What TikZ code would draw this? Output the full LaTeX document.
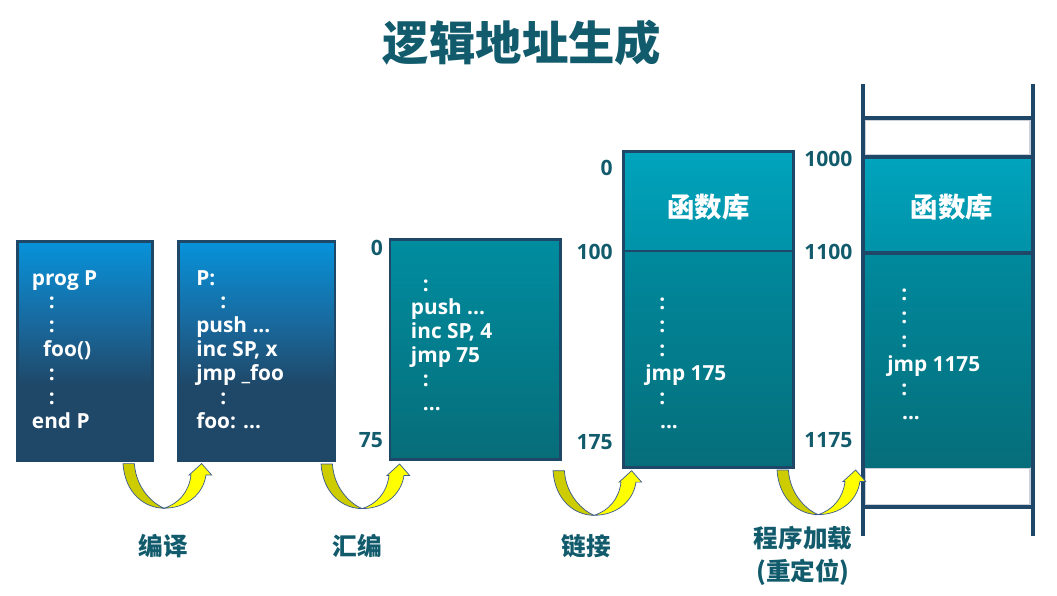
\documentclass[tikz,border=0pt]{standalone}
\usepackage{fontspec}
\setmainfont{Open Sans}
\newfontfamily\cjk{Noto Sans CJK SC}
\definecolor{titlecol}{HTML}{115B6C}
\definecolor{navy}{HTML}{1F4868}
\definecolor{skyb}{HTML}{0792DA}
\definecolor{midb}{HTML}{19689C}
\definecolor{navyb}{HTML}{1F4767}
\definecolor{tealtop}{HTML}{008DA0}
\definecolor{tealbot}{HTML}{076D79}
\definecolor{libtop}{HTML}{00A4BD}
\definecolor{libbot}{HTML}{0092A8}
\definecolor{progtop}{HTML}{00899D}
\definecolor{progbot}{HTML}{066E7A}
\definecolor{olivey}{HTML}{CCCC00}
\definecolor{brighty}{HTML}{FFFF00}
\definecolor{arrowedge}{HTML}{3A5A8E}
\definecolor{cellgray}{HTML}{CDD2DA}
\pgfdeclareverticalshading{srcshade}{100bp}{color(0bp)=(navyb); color(25bp)=(navyb); color(42bp)=(navyb); color(56bp)=(midb); color(75bp)=(skyb); color(100bp)=(skyb)}
\tikzset{
  asmtext/.style={anchor=north west, inner sep=0pt, align=left, text=white,
    font=\bfseries\fontsize{14.8}{17}\selectfont},
  addr/.style={anchor=east, inner sep=0pt, text=titlecol,
    font=\bfseries\fontsize{15}{18}\selectfont},
  libname/.style={text=white, font=\cjk\bfseries\fontsize{19.5}{22}\selectfont},
  stage/.style={text=titlecol, align=center, font=\cjk\bfseries\fontsize{17.5}{24}\selectfont},
  boxline/.style={draw=navy, line width=2.1pt},
  memline/.style={draw=navy, line width=2.4pt},
  bendarrow/.pic={
    \filldraw[fill=olivey, draw=arrowedge, line width=0.5pt] (0,0) .. controls (2,30) and (22,44.6) .. (41,44.6)
      .. controls (30,40) and (13,25) .. (11.4,0) -- cycle;
    \filldraw[fill=brighty, draw=arrowedge, line width=0.5pt] (41,44.6) .. controls (62,44.6) and (80,32) .. (83,11.4)
      -- (88.6,11.4) -- (78.6,0) -- (66.1,11.4) -- (68,11.4) .. controls (66,28) and (56,40) .. (41,44.6) -- cycle;
  }
}
\begin{document}
\begin{tikzpicture}[x=0.025cm,y=-0.025cm]
\useasboundingbox (0,0) rectangle (1057,596);
% title
\node[text=titlecol, font=\cjk\bfseries\fontsize{33}{40}\selectfont] (title) at (522,43) {逻辑地址生成};

% source program
\shade[shading=srcshade] (17.3,241.7) rectangle (152.7,460.7);
\draw[boxline] (17.3,241.7) rectangle (152.7,460.7);
\node[asmtext] (src) at (31.7,268) {\strut prog P\\\hspace*{0.42cm}:\\\hspace*{0.42cm}:\\\hspace*{0.28cm}foo()\\\hspace*{0.42cm}:\\\hspace*{0.42cm}:\\end P};

% compiled
\shade[shading=srcshade] (178.3,241.7) rectangle (335,460.7);
\draw[boxline] (178.3,241.7) rectangle (335,460.7);
\node[asmtext] (asm) at (196,268) {\strut P:\\\hspace*{0.6cm}:\\push ...\\inc SP, x\\jmp \_foo\\\hspace*{0.6cm}:\\foo: ...};

% assembled module
\shade[top color=tealtop, bottom color=tealbot] (390,239.3) rectangle (560.7,459.3);
\draw[boxline] (390,239.3) rectangle (560.7,459.3);
\node[asmtext] (obj) at (410.7,274) {\strut\hspace*{0.3cm}:\\push ...\\inc SP, 4\\jmp 75\\\hspace*{0.3cm}:\\\hspace*{0.3cm}...};
\node[addr] (objtop) at (383.3,248) {0};
\node[addr] (objend) at (383.3,440) {75};

% linked module
\shade[top color=libtop, bottom color=libbot] (623.3,151.7) rectangle (793.3,251);
\shade[top color=progtop, bottom color=progbot] (623.3,251) rectangle (793.3,467.3);
\draw[boxline] (623.3,151.7) rectangle (793.3,467.3);
\draw[boxline] (623.3,251) -- (793.3,251);
\node[libname] (lib) at (708.7,206.7) {函数库};
\node[asmtext] (exe) at (645,292) {\strut\hspace*{0.35cm}:\\\hspace*{0.35cm}:\\\hspace*{0.35cm}:\\jmp 175\\\hspace*{0.35cm}:\\\hspace*{0.37cm}...};
\node[addr] (exetop) at (613,168) {0};
\node[addr] (exemid) at (613,252) {100};
\node[addr] (exeend) at (613,442) {175};

% memory
\draw[draw=cellgray, line width=1pt] (865.5,120.5) rectangle (1030,155);
\draw[draw=cellgray, line width=1pt] (865.5,468) rectangle (1030,505);
\shade[top color=libtop, bottom color=libbot] (864.7,157) rectangle (1030.7,253);
\shade[top color=progtop, bottom color=progbot] (864.7,253) rectangle (1030.7,467);
\foreach \y in {118,157,253,507}
  \draw[memline] (862.7,\y) -- (1032.7,\y);
\draw[navy, line width=3pt] (862.7,84) -- (862.7,536);
\draw[navy, line width=3pt] (1032.7,84) -- (1032.7,536);
\node[libname] (memlib) at (951.7,206.7) {函数库};
\node[asmtext] (mem) at (887,283) {\strut\hspace*{0.35cm}:\\\hspace*{0.35cm}:\\\hspace*{0.35cm}:\\jmp 1175\\\hspace*{0.35cm}:\\\hspace*{0.37cm}...};
\node[addr] (memtop) at (852.7,159.3) {1000};
\node[addr] (memmid) at (852.7,251.7) {1100};
\node[addr] (memend) at (852.7,440) {1175};

% steps
\pic at (123,463.6) {bendarrow};
\pic at (321,464) {bendarrow};
\pic at (553,470.7) {bendarrow};
\pic at (777,470) {bendarrow};
\node[stage] (compile) at (163,546) {编译};
\node[stage] (assemble) at (357,546) {汇编};
\node[stage] (link) at (586,546) {链接};
\node[stage] (load) at (803,556) {程序加载\\(重定位)};
\end{tikzpicture}
\end{document}
